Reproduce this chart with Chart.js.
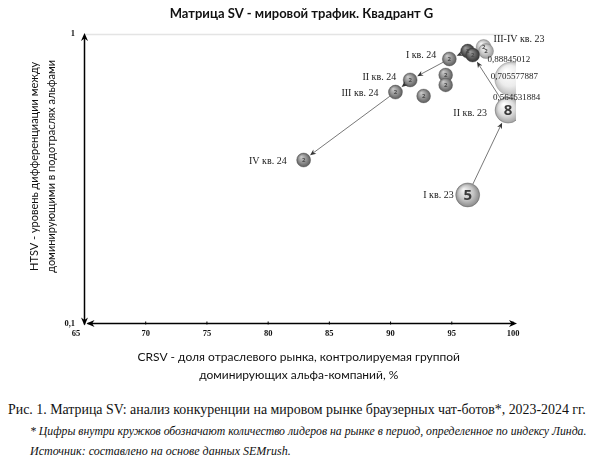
<!DOCTYPE html>
<html><head><meta charset="utf-8">
<script src="https://cdn.jsdelivr.net/npm/chart.js@4.4.0/dist/chart.umd.min.js"></script>
<style>
html,body{margin:0;padding:0;background:#fff;width:590px;height:462px;overflow:hidden}
#wrap{position:relative;width:590px;height:462px}
canvas{position:absolute;left:0;top:0}
.cap{position:absolute;font-family:"Liberation Serif",serif;color:#111;white-space:nowrap}
</style></head><body>
<div id="wrap">
<canvas id="c" width="590" height="392"></canvas>
<div class="cap" style="left:8px;top:402px;font-size:13.9px;line-height:16px">Рис. 1. Матрица SV: анализ конкуренции на мировом рынке браузерных чат-ботов*, 2023-2024 гг.</div>
<div class="cap" style="left:30px;top:425px;font-size:11.75px;line-height:14px;font-style:italic">* Цифры внутри кружков обозначают количество лидеров на рынке в период, определенное по индексу Линда.</div>
<div class="cap" style="left:30px;top:444px;font-size:12px;line-height:14px;font-style:italic">Источник: составлено на основе данных SEMrush.</div>
</div>
<script>
// ---- data ----
const quarters = ['I кв. 23','II кв. 23','III кв. 23','IV кв. 23','I кв. 24','II кв. 24','III кв. 24','IV кв. 24'];
const crsvPath = [96.3, 99.6, 96.3, 96.7, 94.8, 91.6, 90.4, 82.9];
const htsvPath = [0.278, 0.546, 0.873, 0.846, 0.820, 0.694, 0.630, 0.367];
const leadersPath = [5, 8, 2, 2, 2, 2, 2, 2];
const sizePath = [12, 13, 7, 7, 7, 7, 7, 7];

const crsvOther = [97.6, 97.8, 99.9, 94.5, 94.5, 92.7];
const htsvOther = [0.902, 0.873, 0.700, 0.722, 0.667, 0.611];
const leadersOther = [2, 2, null, 2, 2, 2];
const sizeOther = [7.5, 7.5, 17, 7, 7, 7];

const valueLabels = ['0,564631884', '0,705577887', '0,88845012'];
const xTicks = [65, 70, 75, 80, 85, 90, 95, 100];
const yTicks = [0.1, 1];

// ---- styles ----
const tonesPath = ['light','white','dark','dark','mid','mid','mid','mid'];
const tonesOther = ['pale','pale','ghost','mid','mid','mid'];
const TONES = {
  light: ['#f4f4f4','#c4c4c4','#8a8a8a'],
  white: ['#ffffff','#dcdcdc','#a2a2a2'],
  ghost: ['#ffffff','#ececec','#bdbdbd'],
  pale:  ['#f2f2f2','#c8c8c8','#9a9a9a'],
  mid:   ['#c9c9c9','#8e8e8e','#5c5c5c'],
  dark:  ['#9a9a9a','#5e5e5e','#333333']
};
const arrowPairs = [[0,1],[1,3],[2,4],[4,5],[5,6],[6,7]];
// text annotations: dataset, index, text, dx, dy, align, size
const annotations = [
  [0,0,quarters[0],-14,0,'right',10],
  [0,1,quarters[1],-21,3,'right',10],
  [0,1,valueLabels[0],-15,-12,'left',9],
  [1,2,valueLabels[1],-21,-2,'left',9],
  [1,0,valueLabels[2],4,13,'left',9],
  [1,0,'III-IV кв. 23',10,-8,'left',10],
  [0,4,quarters[4],-13,-4,'right',10],
  [0,5,quarters[5],-14,-3,'right',10],
  [0,6,quarters[6],-17,1,'right',10],
  [0,7,quarters[7],-17,1,'right',10]
];

function sphereFill(tones){
  return (c) => {
    const t = TONES[tones[c.dataIndex]] || TONES.mid;
    const ch = c.chart;
    if (c.type !== 'data' || !ch.chartArea || !ch.scales.x) return t[1];
    const x = ch.scales.x.getPixelForValue(c.raw.x);
    const y = ch.scales.y.getPixelForValue(c.raw.y);
    const r = c.raw.r;
    const g = ch.ctx.createRadialGradient(x - r*0.35, y - r*0.45, r*0.05, x, y, r);
    g.addColorStop(0, t[0]);
    g.addColorStop(0.6, t[1]);
    g.addColorStop(1, t[2]);
    return g;
  };
}
function mk(xs, ys, rs){ return xs.map((v,i)=>({x:v, y:ys[i], r:rs[i]})); }

function arrowHead(ctx, tx, ty, ang, len, hw){
  ctx.beginPath();
  ctx.moveTo(tx, ty);
  ctx.lineTo(tx - len*Math.cos(ang) + hw*Math.sin(ang), ty - len*Math.sin(ang) - hw*Math.cos(ang));
  ctx.lineTo(tx - len*0.7*Math.cos(ang), ty - len*0.7*Math.sin(ang));
  ctx.lineTo(tx - len*Math.cos(ang) - hw*Math.sin(ang), ty - len*Math.sin(ang) + hw*Math.cos(ang));
  ctx.closePath();
  ctx.fill();
}

const deco = {
  id: 'deco',
  beforeDatasetsDraw(chart){
    const {ctx, chartArea:a, scales:{x, y}} = chart;
    const x0 = x.getPixelForValue(xTicks[0]);
    const xr = x.getPixelForValue(xTicks[xTicks.length-1]);
    const y0 = y.getPixelForValue(yTicks[0]);
    const y1 = y.getPixelForValue(yTicks[1]);
    ctx.save();
    ctx.strokeStyle = '#e4e4e4'; ctx.lineWidth = 1.5;
    ctx.beginPath(); ctx.moveTo(x0, y1+0.5); ctx.lineTo(a.right, y1+0.5); ctx.stroke();
    ctx.strokeStyle = '#000'; ctx.fillStyle = '#000'; ctx.lineWidth = 1.5;
    ctx.beginPath(); ctx.moveTo(x0, y0+1); ctx.lineTo(x0, y1+2); ctx.stroke();
    ctx.beginPath(); ctx.moveTo(x0+3, y0); ctx.lineTo(xr+1, y0); ctx.stroke();
    arrowHead(ctx, x0, y1-1, -Math.PI/2, 8, 3.5);
    arrowHead(ctx, x0, y0+2, Math.PI/2, 8, 3.5);
    arrowHead(ctx, xr+4, y0, 0, 8, 3.5);
    arrowHead(ctx, x0+2, y0, Math.PI, 8, 3.5);
    ctx.lineWidth = 1;
    x.ticks.forEach(t => {
      if (t.value === xTicks[0]) return;
      const px = x.getPixelForValue(t.value);
      ctx.beginPath(); ctx.moveTo(px, y0-2); ctx.lineTo(px, y0+1); ctx.stroke();
    });
    ctx.restore();
  },
  afterDatasetsDraw(chart){
    const {ctx} = chart;
    const pts = chart.getDatasetMeta(0).data;
    ctx.save();
    ctx.strokeStyle = '#555'; ctx.fillStyle = '#333'; ctx.lineWidth = 0.8;
    arrowPairs.forEach(([i,j]) => {
      const s = pts[i], t = pts[j];
      const rs = chart.data.datasets[0].data[i].r, rt = chart.data.datasets[0].data[j].r;
      const ang = Math.atan2(t.y - s.y, t.x - s.x);
      const sx = s.x + Math.cos(ang)*rs, sy = s.y + Math.sin(ang)*rs;
      const ex = t.x - Math.cos(ang)*(rt+1), ey = t.y - Math.sin(ang)*(rt+1);
      ctx.beginPath(); ctx.moveTo(sx, sy); ctx.lineTo(ex - Math.cos(ang)*3, ey - Math.sin(ang)*3); ctx.stroke();
      arrowHead(ctx, ex, ey, ang, 6, 2.6);
    });
    // numbers inside bubbles
    ctx.textAlign = 'center'; ctx.textBaseline = 'middle';
    [[0, leadersPath],[1, leadersOther]].forEach(([di, nums]) => {
      const meta = chart.getDatasetMeta(di);
      meta.data.forEach((el, k) => {
        if (nums[k] == null) return;
        const r = chart.data.datasets[di].data[k].r;
        if (r >= 10) { ctx.font = 'bold 15px "Open Sans", sans-serif'; ctx.fillStyle = '#3a3a3a'; }
        else { ctx.font = 'bold 6px "Open Sans", sans-serif'; ctx.fillStyle = '#4a4a4a'; }
        ctx.fillText(String(nums[k]), el.x, el.y + (r >= 10 ? 1 : 0.5));
      });
    });
    // text annotations
    ctx.fillStyle = '#222'; ctx.textBaseline = 'middle';
    annotations.forEach(([di, k, txt, dx, dy, al, sz]) => {
      const el = chart.getDatasetMeta(di).data[k];
      ctx.font = sz + 'px "Liberation Serif", serif';
      ctx.textAlign = al;
      ctx.fillText(txt, el.x + dx, el.y + dy);
    });
    ctx.restore();
  }
};

new Chart(document.getElementById('c'), {
  type: 'bubble',
  data: {
    datasets: [
      { label: 'path', data: mk(crsvPath, htsvPath, sizePath),
        backgroundColor: sphereFill(tonesPath), borderColor: 'rgba(70,70,70,0.6)', borderWidth: 0.6,
        clip: {left: false, top: false, right: 3, bottom: false}, order: 1 },
      { label: 'other', data: mk(crsvOther, htsvOther, sizeOther),
        backgroundColor: sphereFill(tonesOther), borderColor: 'rgba(90,90,90,0.45)', borderWidth: 0.6,
        clip: {left: false, top: false, right: 3, bottom: false}, order: 2 }
    ]
  },
  options: {
    responsive: false, animation: false, devicePixelRatio: 1,
    layout: { padding: 0 },
    plugins: {
      legend: { display: false }, tooltip: { enabled: false },
      title: { display: true, text: '\u2002\u2002Матрица SV - мировой трафик. Квадрант G',
        font: { family: 'Lato', size: 13, weight: 'bold', lineHeight: 1.2 }, color: '#111',
        padding: { top: 6, bottom: 12.4 } }
    },
    scales: {
      x: { type: 'linear', min: xTicks[0], max: xTicks[xTicks.length-1],
        afterBuildTicks: s => { s.ticks = xTicks.map(v => ({value: v})); },
        afterFit: s => { s.height = 68.5; },
        grid: { display: false, drawTicks: false }, border: { display: false },
        ticks: { padding: 5, font: { family: 'Liberation Serif', size: 8.5, weight: 'bold' }, color: '#111',
          callback: v => v === xTicks[0] ? String(v) + '\u2003\u2003' : String(v) },
        title: { display: true, text: ['CRSV - доля отраслевого рынка, контролируемая группой', 'доминирующих альфа-компаний, %'],
          font: { family: 'Lato', size: 12, lineHeight: 1.5 }, color: '#111', padding: { top: 0, bottom: 8 } } },
      y: { type: 'logarithmic', min: yTicks[0], max: yTicks[1],
        afterBuildTicks: s => { s.ticks = yTicks.map(v => ({value: v})); },
        afterFit: s => { s.width = 84.5; },
        grid: { display: false, drawTicks: false }, border: { display: false },
        ticks: { padding: 9.5, font: { family: 'Liberation Serif', size: 8.5, weight: 'bold' }, color: '#111',
          callback: v => v === 1 ? '1' : '0,1' },
        title: { display: true, text: ['\u2003\u2003\u2003HTSV - уровень дифференциации между', '\u2003\u2003\u2003доминирующими в подотраслях альфами'],
          font: { family: 'Lato', size: 11, lineHeight: 1.55 }, color: '#111', padding: { top: 25.5, bottom: 0 } } },
      yr: { type: 'linear', position: 'right', display: true,
        afterFit: s => { s.width = 77; },
        grid: { display: false, drawTicks: false }, border: { display: false },
        ticks: { display: false }, title: { display: false } }
    }
  },
  plugins: [deco]
});
</script>
</body></html>
